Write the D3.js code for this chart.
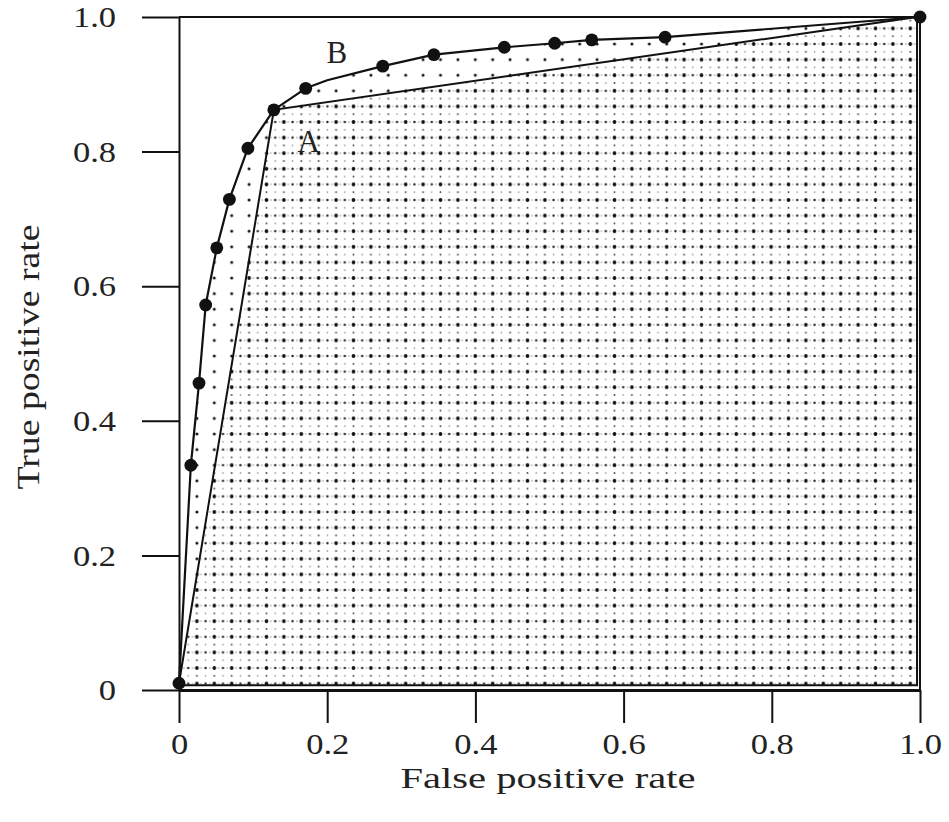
<!DOCTYPE html>
<html><head><meta charset="utf-8">
<script src="https://cdn.jsdelivr.net/npm/d3@7"></script>
<style>body{margin:0;background:#fff}svg{display:block}</style>
</head><body>
<script>
// ---- data ----
const fprB = [0, 0.016, 0.027, 0.036, 0.051, 0.068, 0.093, 0.128, 0.171, 0.200, 0.275, 0.344, 0.439, 0.507, 0.557, 0.656, 1.0];
const tprB = [0.01, 0.334, 0.456, 0.572, 0.657, 0.729, 0.805, 0.862, 0.894, 0.906, 0.927, 0.944, 0.955, 0.961, 0.966, 0.970, 1.0];
const markB = [1,1,1,1,1,1,1,1,1,0,1,1,1,1,1,1,1];
const fprA = [0, 0.128, 1.0];
const tprA = [0.01, 0.862, 1.0];
const shadeBase = 0.007;   // bottom edge of shaded region
const shadeRight = 0.996;  // right edge of shaded region
const xTicks = [0, 0.2, 0.4, 0.6, 0.8, 1.0];
const xTickLabels = ["0", "0.2", "0.4", "0.6", "0.8", "1.0"];
const yTicks = [0, 0.2, 0.4, 0.6, 0.8, 1.0];
const yTickLabels = ["0", "0.2", "0.4", "0.6", "0.8", "1.0"];
const labelA = {text: "A", x: 0.175, y: 0.80};
const labelB = {text: "B", x: 0.213, y: 0.932};
const xTitle = "False positive rate";
const yTitle = "True positive rate";

// ---- chart ----
const W = 949, H = 822;
const FONT = "'Liberation Serif','Times New Roman',serif";
const STRETCH = 1.15;
const x = d3.scaleLinear().domain([0, 1]).range([179, 920]);
const y = d3.scaleLinear().domain([0, 1]).range([690, 17]);

const svg = d3.select("body").append("svg").attr("width", W).attr("height", H);
const defs = svg.append("defs");

// sparse dot pattern (area under B)
const pw = 17.4, ph = 15.6;
const ps = defs.append("pattern").attr("id", "sparse").attr("patternUnits", "userSpaceOnUse")
  .attr("width", pw).attr("height", ph).attr("x", 5.5 - pw / 2).attr("y", 12.8 - ph / 2);
ps.append("circle").attr("cx", pw / 2).attr("cy", ph / 2).attr("r", 1.5).attr("fill", "#111");

// dense dot pattern (area under A)
const pd = defs.append("pattern").attr("id", "dense").attr("patternUnits", "userSpaceOnUse")
  .attr("width", pw).attr("height", ph).attr("x", 5.5 - pw / 4).attr("y", 12.8 - ph / 4);
pd.append("rect").attr("width", pw).attr("height", ph).attr("fill", "#fff");
pd.append("circle").attr("cx", pw / 4).attr("cy", ph / 4).attr("r", 1.9).attr("fill", "#111");
pd.append("circle").attr("cx", 3 * pw / 4).attr("cy", ph / 4).attr("r", 1.2).attr("fill", "#222");
pd.append("circle").attr("cx", pw / 4).attr("cy", 3 * ph / 4).attr("r", 1.0).attr("fill", "#555");
pd.append("circle").attr("cx", 3 * pw / 4).attr("cy", 3 * ph / 4).attr("r", 0.8).attr("fill", "#777");
pd.append("circle").attr("cx", 0).attr("cy", ph / 4).attr("r", 0.7).attr("fill", "#888");
pd.append("circle").attr("cx", pw / 2).attr("cy", ph / 4).attr("r", 0.7).attr("fill", "#888");
pd.append("circle").attr("cx", pw).attr("cy", ph / 4).attr("r", 0.7).attr("fill", "#888");

const ptsB = fprB.map((f, i) => [f, tprB[i]]);
const ptsA = fprA.map((f, i) => [f, tprA[i]]);
const line = d3.line().x(d => x(d[0])).y(d => y(d[1]));

// area under B (sparse)
const polyB = ptsB.slice(0, -1).concat([[shadeRight, tprB[tprB.length - 1]], [shadeRight, shadeBase], [0, shadeBase]]);
svg.append("path").attr("d", line(polyB) + "Z").attr("fill", "url(#sparse)").attr("stroke", "none");
// area under A (dense)
const polyA = ptsA.slice(0, -1).concat([[shadeRight, tprA[tprA.length - 1]], [shadeRight, shadeBase], [0, shadeBase]]);
svg.append("path").attr("d", line(polyA) + "Z").attr("fill", "url(#dense)")
  .attr("stroke", "#111").attr("stroke-width", 2).attr("stroke-linejoin", "miter");

// axes
const yAxis = d3.axisLeft(y).tickValues(yTicks).tickSize(37).tickSizeOuter(0).tickPadding(26)
  .tickFormat((d, i) => yTickLabels[i]);
const gy = svg.append("g").attr("transform", `translate(${x(0)},0)`).call(yAxis);
const xAxis = d3.axisBottom(x).tickValues(xTicks).tickSize(33).tickSizeOuter(0).tickPadding(10)
  .tickFormat((d, i) => xTickLabels[i]);
const gx = svg.append("g").attr("transform", `translate(0,${y(0)})`).call(xAxis);
[gx, gy].forEach(g => {
  g.select(".domain").attr("stroke", "#111").attr("stroke-width", 2);
  g.selectAll(".tick line").attr("stroke", "#111").attr("stroke-width", 2);
  g.selectAll(".tick text").attr("fill", "#222").style("font-family", FONT).style("font-size", "30px")
    .each(function () {
      const len = this.getComputedTextLength();
      d3.select(this).attr("textLength", len * STRETCH).attr("lengthAdjust", "spacingAndGlyphs");
    });
});
gx.select(".domain").attr("stroke-width", 3);

// frame top & right
svg.append("line").attr("x1", x(0)).attr("x2", x(1)).attr("y1", y(1)).attr("y2", y(1))
  .attr("stroke", "#111").attr("stroke-width", 2);
svg.append("line").attr("x1", x(1)).attr("x2", x(1)).attr("y1", y(1)).attr("y2", y(0))
  .attr("stroke", "#111").attr("stroke-width", 2);

// curve B line
svg.append("path").attr("d", line(ptsB)).attr("fill", "none").attr("stroke", "#111").attr("stroke-width", 2.2)
  .attr("stroke-linejoin", "round");

// markers B
svg.append("g").selectAll("path").data(ptsB.filter((d, i) => markB[i])).join("path")
  .attr("transform", d => `translate(${x(d[0])},${y(d[1])})`)
  .attr("d", d3.symbol().type(d3.symbolCircle).size(130)).attr("fill", "#111");

// labels
[labelA, labelB].forEach(l => {
  svg.append("text").attr("x", x(l.x)).attr("y", y(l.y)).attr("text-anchor", "middle")
    .style("font-family", FONT).style("font-size", "31px").attr("fill", "#222").text(l.text);
});

// axis titles
svg.append("text").attr("x", 548).attr("y", 788).attr("text-anchor", "middle")
  .attr("textLength", 295).attr("lengthAdjust", "spacingAndGlyphs")
  .style("font-family", FONT).style("font-size", "30px").attr("fill", "#222").text(xTitle);
svg.append("text").attr("transform", "translate(39,357) rotate(-90)").attr("text-anchor", "middle")
  .attr("textLength", 265).attr("lengthAdjust", "spacingAndGlyphs")
  .style("font-family", FONT).style("font-size", "32px").attr("fill", "#222").text(yTitle);
</script>
</body></html>
